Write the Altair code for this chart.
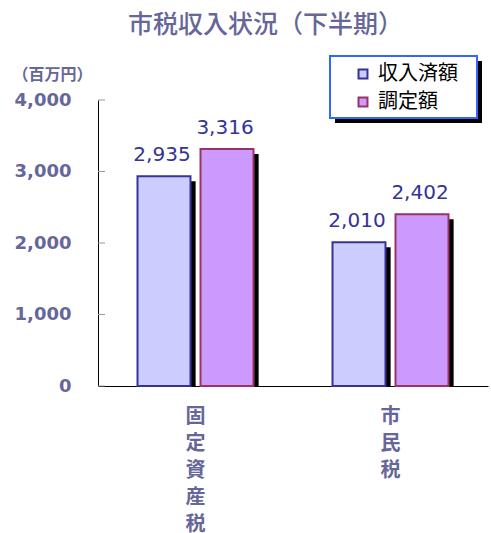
import altair as alt
import pandas as pd

categories = ["固定資産税", "市民税"]
series = ["収入済額", "調定額"]
collected = [2935, 2010]
assessed = [3316, 2402]
y_ticks = [0, 1000, 2000, 3000, 4000]

fills = ["#ccccff", "#cc99ff"]
strokes = ["#333399", "#993366"]
TXT = "#666699"

rows = []
for i, c in enumerate(categories):
    rows.append({"cat": c, "series": series[0], "value": collected[i]})
    rows.append({"cat": c, "series": series[1], "value": assessed[i]})
df = pd.DataFrame(rows)
df["label"] = df["value"].map(lambda v: f"{v:,}")

JP = "Noto Sans CJK JP"

x_enc = alt.X("cat:N", sort=categories,
              scale=alt.Scale(paddingInner=0, paddingOuter=0),
              axis=alt.Axis(title=None, labelAngle=0, ticks=False, domainColor="black",
                            labelExpr="split(datum.label, '')", labelLineHeight=27,
                            labelFont=JP, labelFontSize=20, labelFontWeight="bold",
                            labelColor=TXT, labelPadding=20, labelBaseline="top"))
xo_enc = alt.XOffset("series:N", sort=series,
                     scale=alt.Scale(paddingInner=0.159, paddingOuter=0.627))
xo_shadow = alt.XOffset("series:N", sort=series,
                        scale=alt.Scale(paddingInner=0.159, paddingOuter=0.627, align=0.565))
y_scale = alt.Scale(domain=[0, 4000])

base = alt.Chart(df)

shadow = base.mark_bar(color="black", yOffset=5, clip=True).encode(
    x=x_enc, xOffset=xo_shadow, y=alt.Y("value:Q", scale=y_scale)
)

leg = dict(title=None, orient="none", legendX=255, legendY=-36,
           symbolType="square", symbolSize=80, symbolStrokeWidth=2,
           labelFont=JP, labelFontSize=20, labelColor="black",
           rowPadding=8, labelOffset=5, padding=0)

bars = base.mark_bar(strokeWidth=2).encode(
    x=x_enc, xOffset=xo_enc,
    y=alt.Y("value:Q", scale=y_scale,
            axis=alt.Axis(values=y_ticks, format=",d", ticks=False, grid=False,
                          domainColor="black", labelFont="DejaVu Sans", labelFontSize=18,
                          labelFontWeight="bold", labelColor=TXT, labelPadding=27,
                          title="（百万円）", titleAngle=0, titleFont=JP, titleFontSize=16,
                          titleFontWeight="bold", titleColor=TXT, titleX=-46, titleY=-26,
                          titleAlign="center", titleBaseline="middle")),
    fill=alt.Fill("series:N", sort=series, scale=alt.Scale(domain=series, range=fills),
                  legend=alt.Legend(**leg)),
    stroke=alt.Stroke("series:N", sort=series, scale=alt.Scale(domain=series, range=strokes),
                      legend=alt.Legend(**leg)),
)

labels = base.mark_text(baseline="alphabetic", dy=-15, dx=-2, font="DejaVu Sans",
                        fontSize=20, color="#333399").encode(
    x=x_enc, xOffset=xo_enc, y=alt.Y("value:Q", scale=y_scale), text="label:N"
)

tick_df = pd.DataFrame({"t": y_ticks})
ticks = alt.Chart(tick_df).mark_rule(color="#999999", strokeWidth=1).encode(
    y=alt.Y("t:Q", scale=y_scale), x=alt.value(0), x2=alt.value(7)
)

legend_shadow = alt.Chart(tick_df.head(1)).mark_rect(color="black").encode(
    x=alt.value(237), x2=alt.value(384), y=alt.value(-39), y2=alt.value(23)
)
legend_box = alt.Chart(tick_df.head(1)).mark_rect(fill="white", stroke="#3366ff",
                                                  strokeWidth=2).encode(
    x=alt.value(232), x2=alt.value(379), y=alt.value(-44), y2=alt.value(18)
)

front = alt.layer(bars, labels).resolve_scale(xOffset="shared")
chart = alt.layer(legend_shadow, legend_box, shadow, front, ticks).resolve_scale(
    xOffset="independent"
).properties(
    width=390, height=286,
    title=alt.TitleParams("市税収入状況（下半期）", font=JP, fontSize=25, fontWeight=500,
                          color=TXT, anchor="start", dx=116, offset=17),
    autosize=alt.AutoSizeParams(type="none"),
    padding={"left": 98, "top": 100, "right": 3, "bottom": 147},
).configure_view(stroke=None)

chart.save("out.html", embed_options={"renderer": "svg", "actions": False})
